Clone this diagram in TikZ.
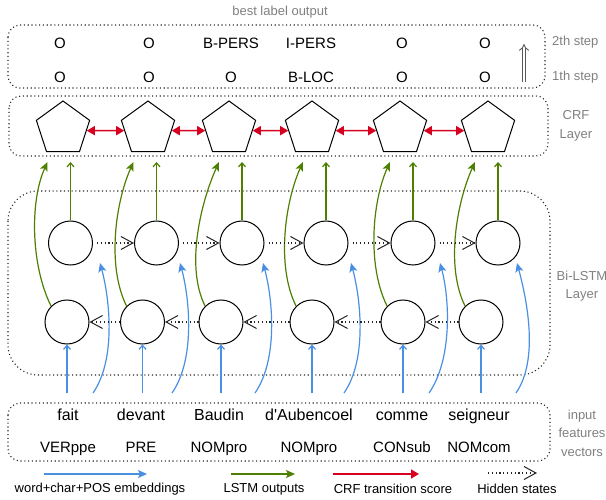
\documentclass[tikz,border=0pt]{standalone}
\usepackage{fontspec}
\setmainfont{Liberation Sans}[Ligatures=TeXOff]
\usepackage{xcolor}
\usetikzlibrary{arrows.meta, positioning, shapes.geometric}

\definecolor{embblue}{RGB}{74,144,226}
\definecolor{lstmgreen}{RGB}{77,128,0}
\definecolor{crfred}{RGB}{215,0,30}
\definecolor{notegray}{RGB}{128,128,128}

\begin{document}
\begin{tikzpicture}[
    x=1pt, y=-1pt,
    layer/.style={draw, black!85, line width=1.1pt, dash pattern=on 1.1pt off 2.7pt, rounded corners=#1},
    layer/.default=12pt,
    note/.style={text=notegray, font=\fontsize{13}{18.5}\selectfont, align=center, inner sep=0pt},
    label/.style={font=\fontsize{15}{18}\selectfont, inner sep=0pt, text height=10.7pt, text depth=0pt},
    word/.style={font=\fontsize{16}{19}\selectfont, inner sep=0pt, text height=11.5pt, text depth=0pt},
    legend/.style={font=\fontsize{13}{16}\selectfont, inner sep=0pt},
    cell/.style={draw, circle, minimum size=44pt, inner sep=0pt, line width=1pt},
    crfbox/.style={draw, regular polygon, regular polygon sides=5, minimum size=56pt, inner sep=0pt, line width=1pt},
    emb/.style={embblue, line width=1.2pt, -{Stealth[length=9pt, width=8pt, inset=2pt]}},
    embup/.style={embblue, line width=1.2pt, -{Straight Barb[length=4pt, width=7pt]}},
    lstm/.style={lstmgreen, line width=1.2pt, -{Stealth[length=9pt, width=8pt, inset=2pt]}},
    lstmup/.style={lstmgreen, line width=1.2pt, -{Straight Barb[length=4pt, width=7pt]}},
    trans/.style={crfred, line width=1.4pt, {Triangle[length=8pt, width=9pt]}-{Triangle[length=8pt, width=9pt]}},
    hidden/.style={black!85, line width=1.1pt, dash pattern=on 1.1pt off 2.7pt, -{Straight Barb[length=12pt, width=13pt, line width=1pt]}},
]
    \useasboundingbox (0,0) rectangle (606,500);

    % layer boxes
    \draw[layer] (8,25) rectangle (545,88);
    \draw[layer] (9,96) rectangle (548,156);
    \draw[layer=30pt] (8,191) rectangle (550,375);
    \draw[layer] (8,403) rectangle (550,461);

    \node[note] (best) at (280,12) {best label output};
    \node[note, anchor=west] (step2) at (552,42) {2th step};
    \node[note, anchor=west] (step1) at (552,77) {1th step};
    \node[note] (crfnote) at (576,126) {CRF\\Layer};
    \node[note] (lstmnote) at (582,286) {Bi-LSTM\\Layer};
    \node[note] (innote) at (582,433) {input\\features\\vectors};

    % decoding steps
    \foreach \x/\up/\lo [count=\i] in {60/O/O, 149/O/O, 231/B-PERS/O, 311/I-PERS/B-LOC, 402/O/O, 485/O/O} {
        \node[label] (up\i) at (\x,43) {\up};
        \node[label] (lo\i) at (\x,77) {\lo};
    }
    \coordinate (stepA) at (524,82);
    \coordinate (stepB) at (524,44);
    \draw[black!65, line width=0.9pt, double, double distance=2.6pt, -{Implies}] (stepA) -- (stepB);

    % inputs
    \foreach \x/\w/\t [count=\i] in {68/fait/VERppe, 141/devant/PRE, 219/Baudin/NOMpro, 309/d'Aubencoel/NOMpro, 402/comme/CONsub, 479/seigneur/NOMcom} {
        \node[word] (w\i) at (\x,415) {\w};
        \node[label] (pos\i) at (\x,447) {\t};
    }

    % CRF nodes and LSTM cells
    \foreach \i/\tx/\bx/\px/\sx/\ex in {1/70.5/67/63/93/100, 2/156.5/142.5/148/172/180, 3/242/221/229/255/263, 4/326/312/312/344/351, 5/413/403/400/429/440, 6/498/481/488/516/517} {
        \node[crfbox] (p\i) at (\px,129) {};
        \node[cell] (f\i) at (\tx,243) {};
        \node[cell] (b\i) at (\bx,322) {};
        \coordinate (u\i) at (\bx,393);
        \coordinate (v\i) at (\sx,393);
        \coordinate (e\i) at (\ex,263);
        \coordinate (h\i) at (\tx,162);
        \coordinate (g\i) at ({\tx-23},162);
        \draw[embup] (u\i) -- (b\i);
        \draw[emb] (v\i) .. controls +(23,-33) and +(10,37) .. (e\i);
        \draw[lstmup] (f\i) -- (h\i);
        \draw[lstm] (b\i.135) .. controls +(-20,-40) and +(-18,40) .. (g\i);
    }

    \foreach \i/\j in {1/2, 2/3, 3/4, 4/5, 5/6} {
        \draw[trans] (p\i.-4) -- (p\j.184);
        \draw[hidden, shorten <=4pt] (f\i) -- (f\j);
        \draw[hidden] (b\j) -- (b\i);
    }

    % legend
    \coordinate (embA) at (44,474);
    \coordinate (embB) at (147,474);
    \coordinate (lstmA) at (231,474);
    \coordinate (lstmB) at (295,474);
    \coordinate (transA) at (333,474);
    \coordinate (transB) at (419,474);
    \coordinate (hidA) at (488,473);
    \coordinate (hidB) at (537,473);
    \draw[emb] (embA) -- (embB);
    \draw[lstm] (lstmA) -- (lstmB);
    \draw[crfred, line width=1.4pt, -{Triangle[length=8pt, width=9pt]}] (transA) -- (transB);
    \draw[hidden] (hidA) -- (hidB);
    \node[legend] (embtxt) at (100,489) {word+char+POS embeddings};
    \node[legend] (lstmtxt) at (264,489) {LSTM outputs};
    \node[legend] (transtxt) at (393,489) {CRF transition score};
    \node[legend] (hidtxt) at (517,489) {Hidden states};
\end{tikzpicture}
\end{document}
